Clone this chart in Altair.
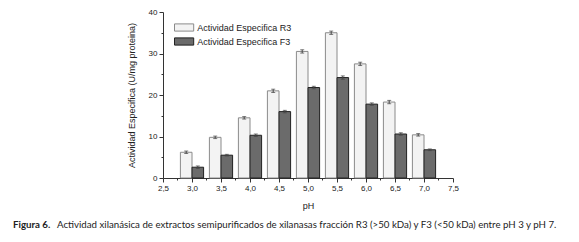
import altair as alt
import pandas as pd

ph = [3.0, 3.5, 4.0, 4.5, 5.0, 5.5, 6.0, 6.5, 7.0]
r3 = [6.2, 9.8, 14.5, 21.0, 30.5, 35.0, 27.5, 18.3, 10.4]
f3 = [2.6, 5.5, 10.3, 16.0, 21.8, 24.2, 17.8, 10.6, 6.8]
r3_err = [0.3, 0.3, 0.3, 0.4, 0.4, 0.4, 0.4, 0.4, 0.3]
f3_err = [0.3, 0.2, 0.3, 0.3, 0.3, 0.4, 0.3, 0.3, 0.2]
series = ["Actividad Especifica R3", "Actividad Especifica F3"]
x_major = [2.5, 3.0, 3.5, 4.0, 4.5, 5.0, 5.5, 6.0, 6.5, 7.0, 7.5]
x_minor = [2.75, 3.25, 3.75, 4.25, 4.75, 5.25, 5.75, 6.25, 6.75, 7.25]
y_ticks = [0, 5, 10, 15, 20, 25, 30, 35, 40]
caption_bold = "Figura 6."
caption_text = ("Actividad xilanásica de extractos semipurificados de xilanasas "
                "fracción R3 (>50 kDa) y F3 (<50 kDa) entre pH 3 y pH 7.")

rows = []
for p, v, e in zip(ph, r3, r3_err):
    rows.append({"pH": p, "serie": series[0], "v": v, "e": e, "side": -1})
for p, v, e in zip(ph, f3, f3_err):
    rows.append({"pH": p, "serie": series[1], "v": v, "e": e, "side": 1})
df = pd.DataFrame(rows)

W, H = 290, 166
bw = 0.2
base = alt.Chart(df).transform_calculate(
    x0=f"datum.side < 0 ? datum.pH - {bw} : datum.pH",
    x1=f"datum.side < 0 ? datum.pH : datum.pH + {bw}",
    xc=f"datum.pH + datum.side * {bw / 2}",
    lo="datum.v - datum.e",
    hi="datum.v + datum.e",
)

x_axis = alt.Axis(
    values=x_major, title="pH", grid=False, labelOverlap=False,
    labelExpr="replace(format(datum.value, '.1f'), '.', ',')",
    tickSize=4,
    labelFontSize=8, titleFontSize=9, titleFontWeight="normal",
    labelFont="Liberation Sans", titleFont="Liberation Sans",
    domainColor="#333", tickColor="#333", labelColor="#222", titleColor="#222",
    labelPadding=2, titlePadding=9, labelFlush=False,
)
y_axis = alt.Axis(
    values=y_ticks, title="Actividad Especifica (U/mg proteina)", grid=False, labelOverlap=False,
    labelExpr="datum.value % 10 == 0 ? datum.value : ''",
    tickSize={"condition": {"test": "datum.value % 10 != 0", "value": 2}, "value": 4},
    labelFontSize=8, titleFontSize=9, titleFontWeight="normal",
    labelFont="Liberation Sans", titleFont="Liberation Sans",
    domainColor="#333", tickColor="#333", labelColor="#222", titleColor="#222",
    labelPadding=2, titlePadding=12,
)

x_scale = alt.Scale(domain=[2.5, 7.5], nice=False, zero=False)
color_scale = alt.Scale(domain=series, range=["#f3f3f3", "#6b6b6b"])
stroke_scale = alt.Scale(domain=series, range=["#8a8a8a", "#222222"])

legend = alt.Legend(
    title=None, orient="none", legendX=16.6, legendY=11,
    symbolType="M-2.4,-0.9H2.4V0.9H-2.4Z", symbolSize=64, symbolStrokeWidth=1,
    labelFontSize=9, labelFont="Liberation Sans", labelColor="#222",
    labelOffset=8.6, rowPadding=1, padding=0, symbolOpacity=1,
)

bars = base.mark_rect(strokeWidth=1).encode(
    x=alt.X("x0:Q", scale=x_scale, axis=x_axis),
    x2="x1:Q",
    y=alt.Y("v:Q", scale=alt.Scale(domain=[0, 40], nice=False), axis=y_axis),
    y2=alt.datum(0),
    fill=alt.Fill("serie:N", scale=color_scale, legend=legend, sort=series),
    stroke=alt.Stroke("serie:N", scale=stroke_scale, legend=legend, sort=series),
)

err = base.mark_rule(color="#444", strokeWidth=1).encode(
    x=alt.X("xc:Q", axis=x_axis), y=alt.Y("lo:Q", axis=y_axis), y2="hi:Q",
)
cap_lo = base.mark_tick(color="#444", orient="horizontal", size=4, thickness=1).encode(
    x=alt.X("xc:Q", axis=x_axis), y=alt.Y("lo:Q", axis=y_axis),
)
cap_hi = base.mark_tick(color="#444", orient="horizontal", size=4, thickness=1).encode(
    x=alt.X("xc:Q", axis=x_axis), y=alt.Y("hi:Q", axis=y_axis),
)

minor = alt.Chart(pd.DataFrame({"m": x_minor})).mark_rule(color="#333", strokeWidth=1).encode(
    x=alt.X("m:Q", scale=x_scale, axis=x_axis),
    y=alt.value(H + 0.5), y2=alt.value(H + 2.5),
)

cap_df = pd.DataFrame({"t": [caption_bold]})
cap_df2 = pd.DataFrame({"t": [caption_text]})
cap1 = alt.Chart(cap_df).mark_text(
    align="left", baseline="middle", font="Lato", fontSize=9.7, fontWeight="bold", color="#222"
).encode(text="t:N", x=alt.value(-150), y=alt.value(213))
cap2 = alt.Chart(cap_df2).mark_text(
    align="left", baseline="middle", font="Lato", fontSize=9.7, color="#222"
).encode(text="t:N", x=alt.value(-106), y=alt.value(213))

chart = alt.layer(bars, err, cap_lo, cap_hi, minor, cap1, cap2).properties(
    width=W, height=H,
    autosize=alt.AutoSizeParams(type="none"),
    padding={"left": 155, "top": 4, "right": 118, "bottom": 56},
    background="white",
).configure_view(stroke=None).configure_axis(labelOverlap=False)

chart.save("out.html", embed_options={"renderer": "svg", "actions": False})
